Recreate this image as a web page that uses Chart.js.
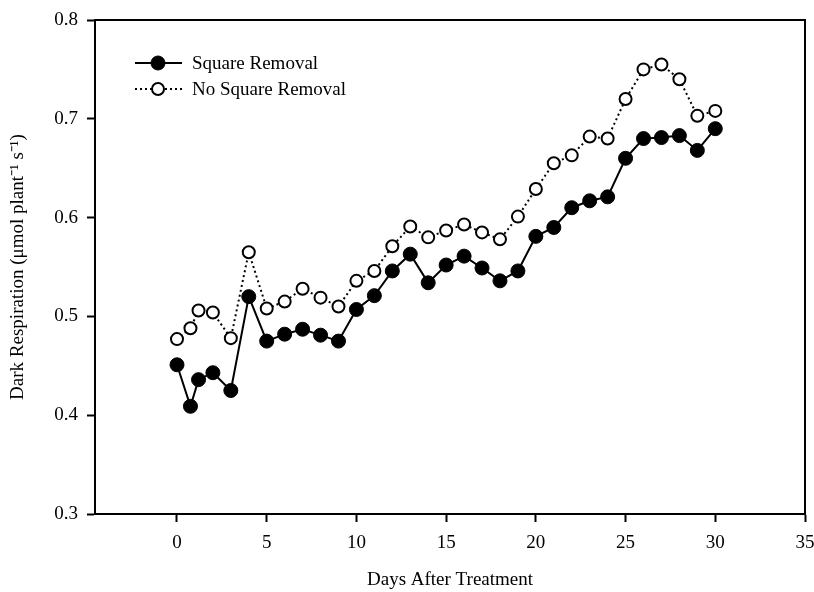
<!DOCTYPE html>
<html>
<head>
<meta charset="utf-8">
<script src="https://cdn.jsdelivr.net/npm/chart.js@4/dist/chart.umd.min.js"></script>
<style>
html,body{margin:0;padding:0;background:#fff;}
#wrap{width:814px;height:592px;position:relative;}
</style>
</head>
<body>
<div id="wrap"><canvas id="c" width="814" height="592"></canvas></div>
<script>
const days = [0, 0.75, 1.2, 2, 3, 4, 5, 6, 7, 8, 9, 10, 11, 12, 13, 14, 15, 16, 17, 18, 19, 20, 21, 22, 23, 24, 25, 26, 27, 28, 29, 30];
const squareRemoval = [0.451, 0.409, 0.436, 0.443, 0.425, 0.520, 0.475, 0.482, 0.487, 0.481, 0.475, 0.507, 0.521, 0.546, 0.563, 0.534, 0.552, 0.561, 0.549, 0.536, 0.546, 0.581, 0.590, 0.610, 0.617, 0.621, 0.660, 0.680, 0.681, 0.683, 0.668, 0.690];
const noSquareRemoval = [0.477, 0.488, 0.506, 0.504, 0.478, 0.565, 0.508, 0.515, 0.528, 0.519, 0.510, 0.536, 0.546, 0.571, 0.591, 0.580, 0.587, 0.593, 0.585, 0.578, 0.601, 0.629, 0.655, 0.663, 0.682, 0.680, 0.720, 0.750, 0.755, 0.740, 0.703, 0.708];
const xTicks = [0, 5, 10, 15, 20, 25, 30, 35];
const yTicks = [0.3, 0.4, 0.5, 0.6, 0.7, 0.8];
const seriesLabels = ['Square Removal', 'No Square Removal'];
const xTitle = 'Days After Treatment';
const yTitle = 'Dark Respiration (\u03bcmol plant\u207b\u00b9 s\u207b\u00b9)';

const FONT = "'Liberation Serif', 'Times New Roman', serif";
const FSIZE = 19;

const boxPlugin = {
  id: 'box',
  afterDraw(chart) {
    const a = chart.chartArea, ctx = chart.ctx;
    ctx.save();
    ctx.strokeStyle = '#000';
    ctx.lineWidth = 2;
    ctx.strokeRect(a.left, a.top, a.right - a.left, a.bottom - a.top);
    ctx.restore();
  }
};

const legendPlugin = {
  id: 'customLegend',
  afterDraw(chart) {
    const ctx = chart.ctx;
    const rows = [63, 89];
    chart.data.datasets.forEach((ds, i) => {
      const y = rows[i];
      ctx.save();
      ctx.strokeStyle = '#000';
      ctx.lineWidth = 2;
      ctx.setLineDash(ds.borderDash || []);
      ctx.beginPath();
      ctx.moveTo(135, y);
      ctx.lineTo(182, y);
      ctx.stroke();
      ctx.setLineDash([]);
      ctx.beginPath();
      ctx.arc(158, y, ds.pointRadius, 0, Math.PI * 2);
      ctx.fillStyle = ds.pointBackgroundColor;
      ctx.fill();
      ctx.lineWidth = ds.pointBorderWidth;
      ctx.stroke();
      ctx.fillStyle = '#000';
      ctx.font = FSIZE + 'px ' + FONT;
      ctx.textBaseline = 'middle';
      ctx.textAlign = 'left';
      ctx.fillText(ds.label, 192, y + 1);
      ctx.restore();
    });
  }
};

new Chart(document.getElementById('c'), {
  type: 'line',
  data: {
    datasets: [
      {
        label: seriesLabels[0],
        data: days.map((d, i) => ({x: d, y: squareRemoval[i]})),
        borderColor: '#000',
        borderWidth: 2,
        pointRadius: 7,
        pointBackgroundColor: '#000',
        pointBorderColor: '#000',
        pointBorderWidth: 1,
        tension: 0
      },
      {
        label: seriesLabels[1],
        data: days.map((d, i) => ({x: d, y: noSquareRemoval[i]})),
        borderColor: '#000',
        borderWidth: 2,
        borderDash: [2, 3],
        pointRadius: 6,
        pointBackgroundColor: '#fff',
        pointBorderColor: '#000',
        pointBorderWidth: 2,
        tension: 0
      }
    ]
  },
  options: {
    responsive: false,
    animation: false,
    devicePixelRatio: 1,
    layout: {padding: {top: 20, right: 9, left: 0, bottom: 0}},
    plugins: {legend: {display: false}, tooltip: {enabled: false}},
    scales: {
      x: {
        type: 'linear',
        min: -4.57,
        max: 35,
        afterBuildTicks(scale) { scale.ticks = xTicks.map(v => ({value: v})); },
        afterFit(scale) { scale.height = 78; scale.paddingRight = 0; scale.paddingLeft = 0; },
        grid: {display: true, drawOnChartArea: false, drawTicks: true, tickLength: 8, tickWidth: 2, tickColor: '#000'},
        border: {display: true, width: 2, color: '#000'},
        ticks: {color: '#000', font: {family: FONT, size: FSIZE}, padding: 10, maxRotation: 0, callback: v => String(v)},
        title: {display: true, text: xTitle, color: '#000', font: {family: FONT, size: FSIZE}, padding: {top: 0, bottom: 1}}
      },
      y: {
        type: 'linear',
        min: 0.3,
        max: 0.8,
        afterBuildTicks(scale) { scale.ticks = yTicks.map(v => ({value: v})); },
        afterFit(scale) { scale.width = 95; scale.paddingTop = 0; scale.paddingBottom = 0; },
        grid: {display: true, drawOnChartArea: false, drawTicks: true, tickLength: 8, tickWidth: 2, tickColor: '#000'},
        border: {display: true, width: 2, color: '#000'},
        ticks: {color: '#000', font: {family: FONT, size: FSIZE}, padding: 9, callback: v => v.toFixed(1)},
        title: {display: true, text: yTitle, color: '#000', font: {family: FONT, size: FSIZE}, padding: {top: 7, bottom: 0}}
      }
    }
  },
  plugins: [boxPlugin, legendPlugin]
});
</script>
</body>
</html>
